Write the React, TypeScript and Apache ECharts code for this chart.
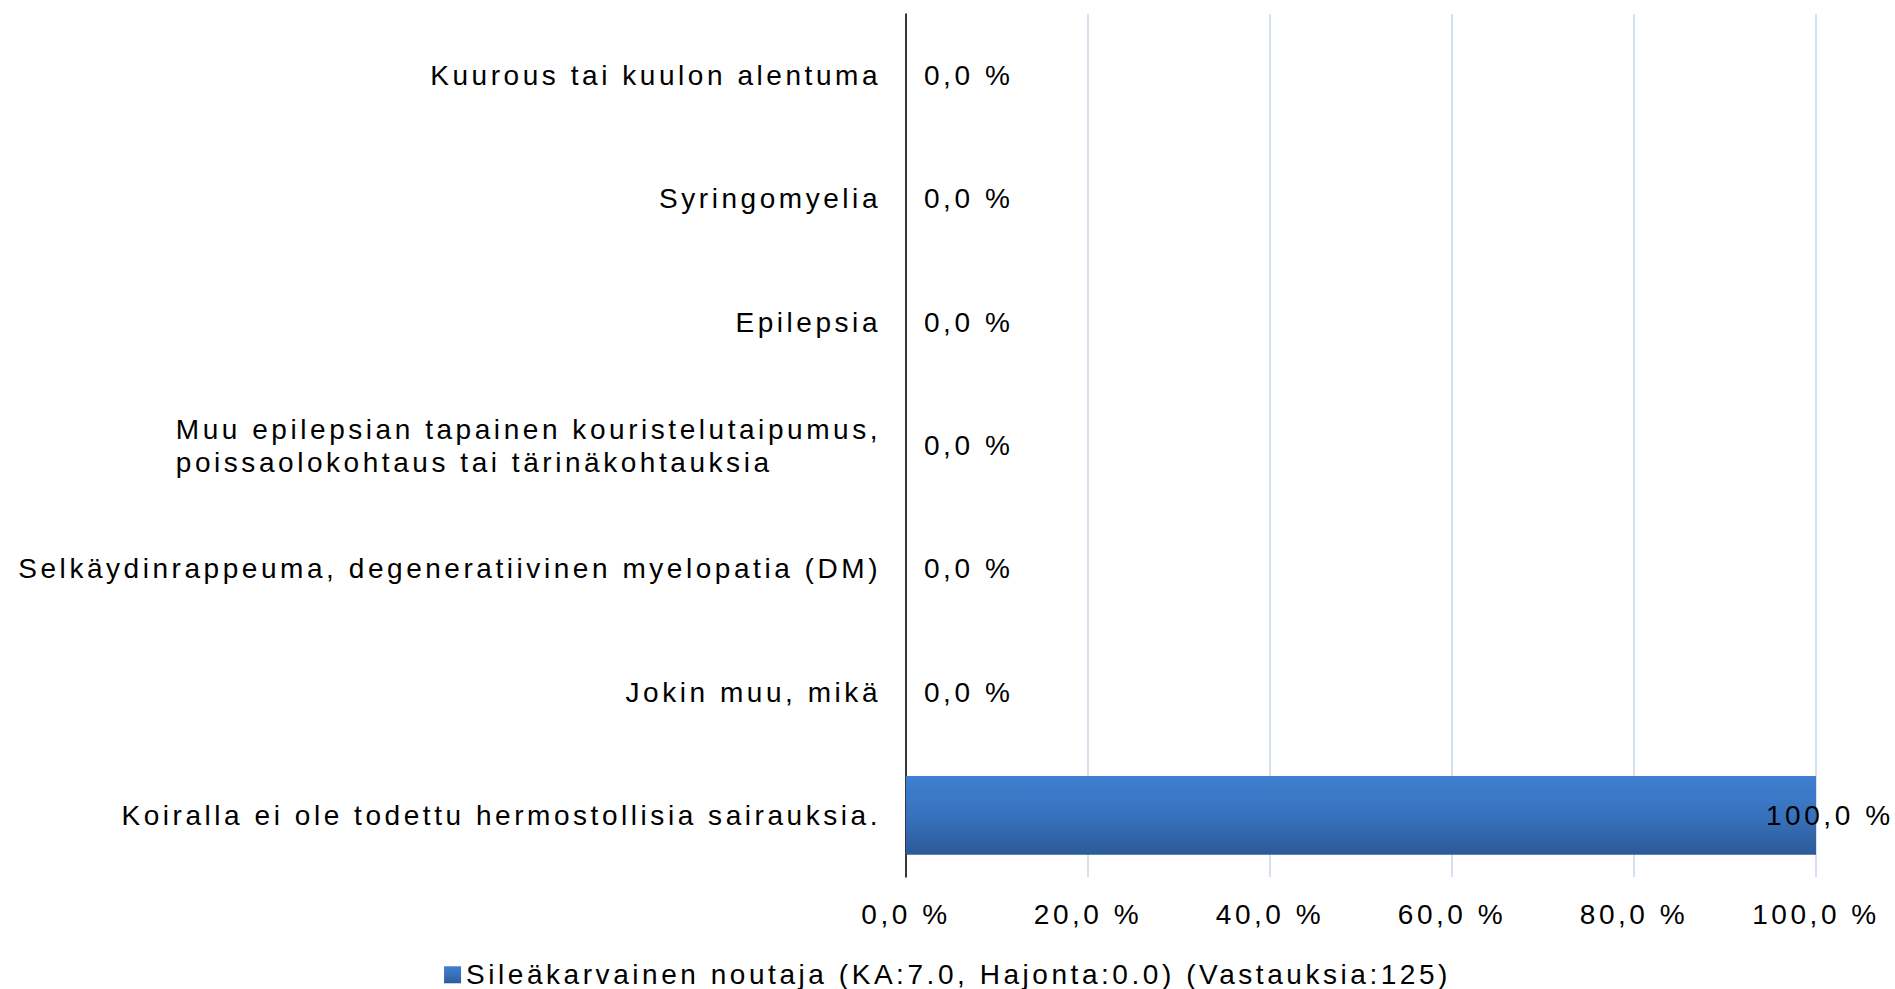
import React, { useEffect, useRef } from 'react';
import * as echarts from 'echarts';

// ---- Data ----
const categories: string[] = [
  'Kuurous tai kuulon alentuma',
  'Syringomyelia',
  'Epilepsia',
  'Muu epilepsian tapainen kouristelutaipumus,\npoissaolokohtaus tai tärinäkohtauksia',
  'Selkäydinrappeuma, degeneratiivinen myelopatia (DM)',
  'Jokin muu, mikä',
  'Koiralla ei ole todettu hermostollisia sairauksia.',
];
const values: number[] = [0, 0, 0, 0, 0, 0, 100];
const seriesName = 'Sileäkarvainen noutaja (KA:7.0, Hajonta:0.0) (Vastauksia:125)';
const xMin = 0;
const xMax = 100;
const xInterval = 20;

// ---- Styling ----
const FONT = '"Liberation Sans", Arial, sans-serif';
const FS = 28;
const LS = 3.55; // letter spacing in px

// Make ECharts measure text including the letter spacing used in the picture
const measureCanvas = typeof document !== 'undefined' ? document.createElement('canvas') : null;
const measureCtx = measureCanvas ? measureCanvas.getContext('2d') : null;
if ((echarts as any).setPlatformAPI && measureCtx) {
  (echarts as any).setPlatformAPI({
    measureText(text: string, font?: string) {
      measureCtx.font = font || '12px sans-serif';
      const m = measureCtx.measureText(text);
      return {
        width: m.width + LS * (text ? text.length : 0),
        actualBoundingBoxAscent: m.actualBoundingBoxAscent,
        actualBoundingBoxDescent: m.actualBoundingBoxDescent,
        actualBoundingBoxLeft: m.actualBoundingBoxLeft,
        actualBoundingBoxRight: m.actualBoundingBoxRight,
      };
    },
  });
}

const fmtPct = (v: number) => v.toFixed(1).replace('.', ',') + ' %';

export default function App() {
  const ref = useRef<HTMLDivElement>(null);

  useEffect(() => {
    document.body.style.margin = '0';
    const el = ref.current!;
    const applyLS = () => {
      el.querySelectorAll('text').forEach((t) => {
        if (t.getAttribute('letter-spacing') !== LS + 'px') t.setAttribute('letter-spacing', LS + 'px');
      });
    };
    const mo = new MutationObserver(applyLS);
    mo.observe(el, { childList: true, subtree: true });

    const chart = echarts.init(el, undefined, { renderer: 'svg' });
    const barColor = new echarts.graphic.LinearGradient(0, 0, 0, 1, [
      { offset: 0, color: '#3f80d1' },
      { offset: 0.5, color: '#3872bd' },
      { offset: 1, color: '#2c5a97' },
    ]);

    const lastIdx = values.length - 1;
    const seriesData = values.map((v, i) =>
      i === lastIdx ? { value: v, label: { offset: [-68, 0] } } : v
    );

    chart.setOption({
      animation: false,
      textStyle: { fontFamily: FONT, color: '#000' },
      grid: { left: 906, right: 79, top: 14, bottom: 112, containLabel: false },
      legend: {
        show: true,
        left: 'center',
        top: 954,
        icon: 'rect',
        itemWidth: 17,
        itemHeight: 17,
        textStyle: { fontSize: FS, fontFamily: FONT, color: '#000', lineHeight: 28 },
        data: [seriesName],
      },
      xAxis: {
        type: 'value',
        min: xMin,
        max: xMax,
        interval: xInterval,
        axisLine: { show: false },
        axisTick: { show: false },
        splitLine: { show: true, lineStyle: { color: '#d6e1ef', width: 2 } },
        axisLabel: {
          fontSize: FS,
          fontFamily: FONT,
          color: '#000',
          margin: 22,
          formatter: (v: number) => fmtPct(v),
        },
      },
      yAxis: {
        type: 'category',
        inverse: true,
        data: categories,
        axisLine: { show: true, lineStyle: { color: '#000', width: 1.5 } },
        axisTick: { show: false },
        splitLine: { show: false },
        axisLabel: {
          interval: 0,
          margin: 25,
          fontSize: FS,
          fontFamily: FONT,
          color: '#000',
          formatter: (v: string) => v.split('\n').map((l) => `{l|${l}}`).join('\n'),
          rich: {
            l: { align: 'left', fontSize: FS, fontFamily: FONT, color: '#000', lineHeight: 33 },
          },
        },
      },
      series: [
        {
          name: seriesName,
          type: 'bar',
          data: seriesData,
          barWidth: '64%',
          itemStyle: { color: barColor },
          label: {
            show: true,
            position: 'right',
            distance: 18,
            fontSize: FS,
            fontFamily: FONT,
            color: '#000',
            formatter: (p: any) => fmtPct(p.value),
          },
        },
      ],
    });
    applyLS();
    chart.on('finished', applyLS);

    return () => {
      mo.disconnect();
      chart.dispose();
    };
  }, []);

  return <div ref={ref} style={{ width: 1895, height: 989 }} />;
}
